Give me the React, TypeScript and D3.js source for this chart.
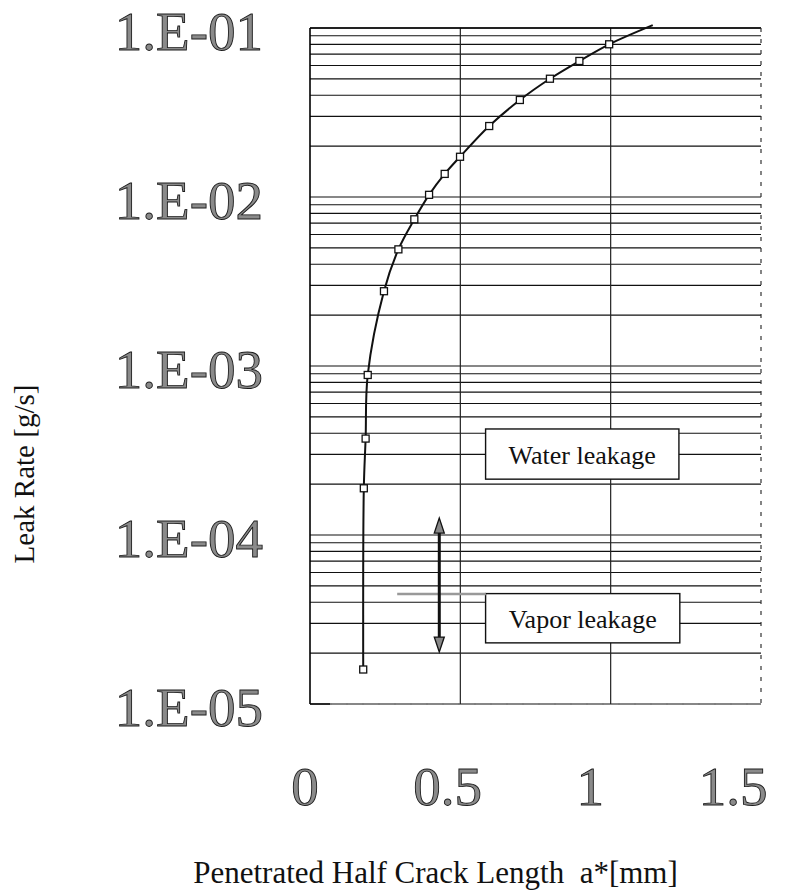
import React from "react";
import * as d3 from "d3";

// Data
const crackLength = [0.177, 0.179, 0.185, 0.192, 0.246, 0.294, 0.347, 0.396, 0.448, 0.499, 0.596, 0.698, 0.798, 0.896, 0.995];
const leakRate = [1.6e-5, 1.89e-4, 3.72e-4, 8.85e-4, 2.77e-3, 4.9e-3, 7.38e-3, 1.03e-2, 1.37e-2, 1.73e-2, 2.63e-2, 3.75e-2, 5.01e-2, 6.38e-2, 8.01e-2];
// smoothed curve continues past the last marker
const curveEndX = [1.14];
const curveEndY = [1.04e-1];

const xTickValues = [0, 0.5, 1, 1.5];
const xTickLabels = ["0", "0.5", "1", "1.5"];
const yTickValues = [1e-1, 1e-2, 1e-3, 1e-4, 1e-5];
const yTickLabels = ["1.E-01", "1.E-02", "1.E-03", "1.E-04", "1.E-05"];
const xGridValues = [0.5, 1];

const boxLabels = ["Water leakage", "Vapor leakage"];
const boxX0 = [0.584, 0.584];
const boxX1 = [1.227, 1.23];
const boxYTop = [4.24e-4, 4.5e-5];
const boxYBot = [2.14e-4, 2.3e-5];

const arrowX = [0.43];
const arrowTop = [1.26e-4];
const arrowBot = [2.03e-5];
const hLineX = [0.29, 0.585];
const hLineY = [4.48e-5];

const W = 802;
const H = 896;
const serif = "'Liberation Serif', 'Times New Roman', serif";

export default function App() {
  const x = d3.scaleLinear().domain([0, 1.5]).range([310, 761]);
  const y = d3.scaleLog().domain([1e-5, 1e-1]).range([704, 28]);
  // tick labels in the source sit on a slightly compressed spacing
  const xLab = d3.scaleLinear().domain([0, 1.5]).range([305, 733]);

  const gridY = y.ticks();
  const pts: [number, number][] = crackLength.map((c, i) => [x(c), y(leakRate[i])]);
  const curvePts: [number, number][] = pts.concat(curveEndX.map((c, i) => [x(c), y(curveEndY[i])] as [number, number]));
  const line = d3.line().curve(d3.curveCatmullRom.alpha(0.5));
  const path = line(curvePts) || "";

  const [x0, x1] = x.range();
  const [yb, yt] = y.range();
  const ms = 7;

  const ax = x(arrowX[0]);
  const aTop = y(arrowTop[0]);
  const aBot = y(arrowBot[0]);
  const hw = 5, hh = 15;

  return (
    <svg width={W} height={H} style={{ position: "absolute", left: 0, top: 0, background: "#fff" }}>
      <rect x={0} y={0} width={W} height={H} fill="#fff" />
      {/* horizontal log grid */}
      {gridY.map((v, i) => (
        <line key={"g" + i} x1={x0} x2={x1} y1={y(v)} y2={y(v)} stroke="#111" strokeWidth={1.2} />
      ))}
      {/* vertical grid */}
      {xGridValues.map((v, i) => (
        <line key={"vg" + i} x1={x(v)} x2={x(v)} y1={yt} y2={yb} stroke="#222" strokeWidth={1.2} />
      ))}
      {/* frame */}
      <line x1={x0} x2={x0} y1={yt} y2={yb} stroke="#000" strokeWidth={1.6} />
      <line x1={x0} x2={x1} y1={yt} y2={yt} stroke="#000" strokeWidth={1.4} />
      <line x1={x1} x2={x1} y1={yt} y2={yb} stroke="#333" strokeWidth={1.2} strokeDasharray="4,7" />
      <line x1={x0} x2={x0 + 20} y1={yb} y2={yb} stroke="#000" strokeWidth={1.4} />
      <line x1={x0 + 20} x2={x1} y1={yb} y2={yb} stroke="#777" strokeWidth={1} strokeDasharray="2,14" />

      {/* annotation boxes */}
      {boxLabels.map((t, i) => {
        const bx = x(boxX0[i]);
        const bw = x(boxX1[i]) - bx;
        const by = y(boxYTop[i]);
        const bh = y(boxYBot[i]) - by;
        return (
          <g key={"b" + i}>
            <rect x={bx} y={by} width={bw} height={bh} fill="#fff" stroke="#111" strokeWidth={1.4} />
            <text x={bx + bw / 2} y={by + bh / 2 + 10} textAnchor="middle" fontFamily={serif} fontSize={26} fill="#111">
              {t}
            </text>
          </g>
        );
      })}

      {/* gray horizontal marker line */}
      <line x1={x(hLineX[0])} x2={x(hLineX[1])} y1={y(hLineY[0])} y2={y(hLineY[0])} stroke="#999" strokeWidth={2.5} />
      {/* double-headed arrow */}
      <line x1={ax} x2={ax} y1={aTop + hh} y2={aBot - hh} stroke="#111" strokeWidth={3} />
      <path d={`M${ax},${aTop} L${ax - hw},${aTop + hh} L${ax + hw},${aTop + hh} Z`} fill="#888" stroke="#111" strokeWidth={1.3} />
      <path d={`M${ax},${aBot} L${ax - hw},${aBot - hh} L${ax + hw},${aBot - hh} Z`} fill="#888" stroke="#111" strokeWidth={1.3} />

      {/* curve */}
      <path d={path} fill="none" stroke="#111" strokeWidth={2} />
      {pts.map((p, i) => (
        <rect key={"m" + i} x={p[0] - ms / 2} y={p[1] - ms / 2} width={ms} height={ms} fill="#fff" stroke="#111" strokeWidth={1.3} />
      ))}

      {/* y tick labels */}
      {yTickValues.map((v, i) => (
        <text key={"yl" + i} x={263} y={y(v) + 22} textAnchor="end" fontFamily={serif} fontSize={55}
          fill="#8a8a8a" stroke="#1a1a1a" strokeWidth={0.9}>
          {yTickLabels[i]}
        </text>
      ))}
      {/* x tick labels */}
      {xTickValues.map((v, i) => (
        <text key={"xl" + i} x={xLab(v)} y={805} textAnchor="middle" fontFamily={serif} fontSize={55}
          fill="#8a8a8a" stroke="#1a1a1a" strokeWidth={0.9}>
          {xTickLabels[i]}
        </text>
      ))}

      {/* axis titles */}
      <text x={435.5} y={883} textAnchor="middle" fontFamily={serif} fontSize={31} fill="#111" style={{ whiteSpace: "pre" }}>
        {"Penetrated Half Crack Length  a*[mm]"}
      </text>
      <text transform={`translate(34,474) rotate(-90)`} textAnchor="middle" fontFamily={serif} fontSize={29} fill="#111">
        Leak Rate [g/s]
      </text>
    </svg>
  );
}
